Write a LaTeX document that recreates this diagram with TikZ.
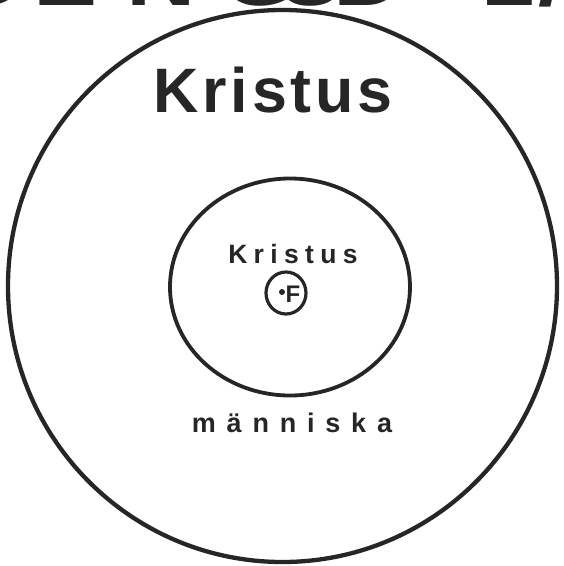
\documentclass[tikz,border=0pt]{standalone}
\usepackage{fontspec}
\setmainfont{Liberation Sans}
\usetikzlibrary{shapes.geometric}
\newcommand{\ttl}[1]{\scalebox{1.2}[1]{\fontsize{80}{80}\selectfont\bfseries #1}}
\begin{document}
\begin{tikzpicture}[x=1pt,y=-1pt,
  ring/.style={draw=black!85, ellipse, inner sep=0pt, fill=none},
  lbl/.style={text=black!85, inner sep=0pt, anchor=base},
  tlet/.style={text=black!85, inner sep=0pt, anchor=base west}]
\useasboundingbox (0,0) rectangle (564,566);
\clip (0,0) rectangle (564,566);
\fill[white] (0,0) rectangle (564,566);
% cut-off title at top (only the feet of its letters show)
\node[tlet] (t1) at (-45,5) {\ttl{D}};
\node[tlet] (t2) at (33,5) {\ttl{E}};
\node[tlet] (t3) at (126,5) {\ttl{N}};
\node[tlet] (t4) at (222,5) {\ttl{G}};
\node[tlet] (t5) at (276,5) {\ttl{U}};
\node[tlet] (t6) at (333,5) {\ttl{D}};
\node[tlet] (t7) at (481,5) {\ttl{1}};
\node[tlet] (t8) at (538,5) {\ttl{/}};
% circles
\node[ring, line width=4.3pt, minimum width=549pt, minimum height=552pt] (outer) at (282.5,286) {};
\node[ring, line width=3.8pt, minimum width=240pt, minimum height=217pt] (inner) at (290,287) {};
\node[ring, line width=3.2pt, minimum width=40pt, minimum height=42pt] (core) at (286,293) {};
% texts
\node[lbl] (k1) at (273,112) {\fontsize{62.8}{62.8}\selectfont\bfseries\addfontfeature{LetterSpace=6}Kristus};
\node[lbl] (k2) at (293,263) {\fontsize{26.5}{26.5}\selectfont\bfseries\addfontfeature{LetterSpace=24}Kristus};
\node[lbl] (m) at (292,432) {\fontsize{27}{27}\selectfont\bfseries\addfontfeature{LetterSpace=40}människa};
\node[lbl] (f) at (293,302) {\fontsize{24}{24}\selectfont\bfseries F};
\fill[black!85] (282,292) circle (3pt);
\end{tikzpicture}
\end{document}
